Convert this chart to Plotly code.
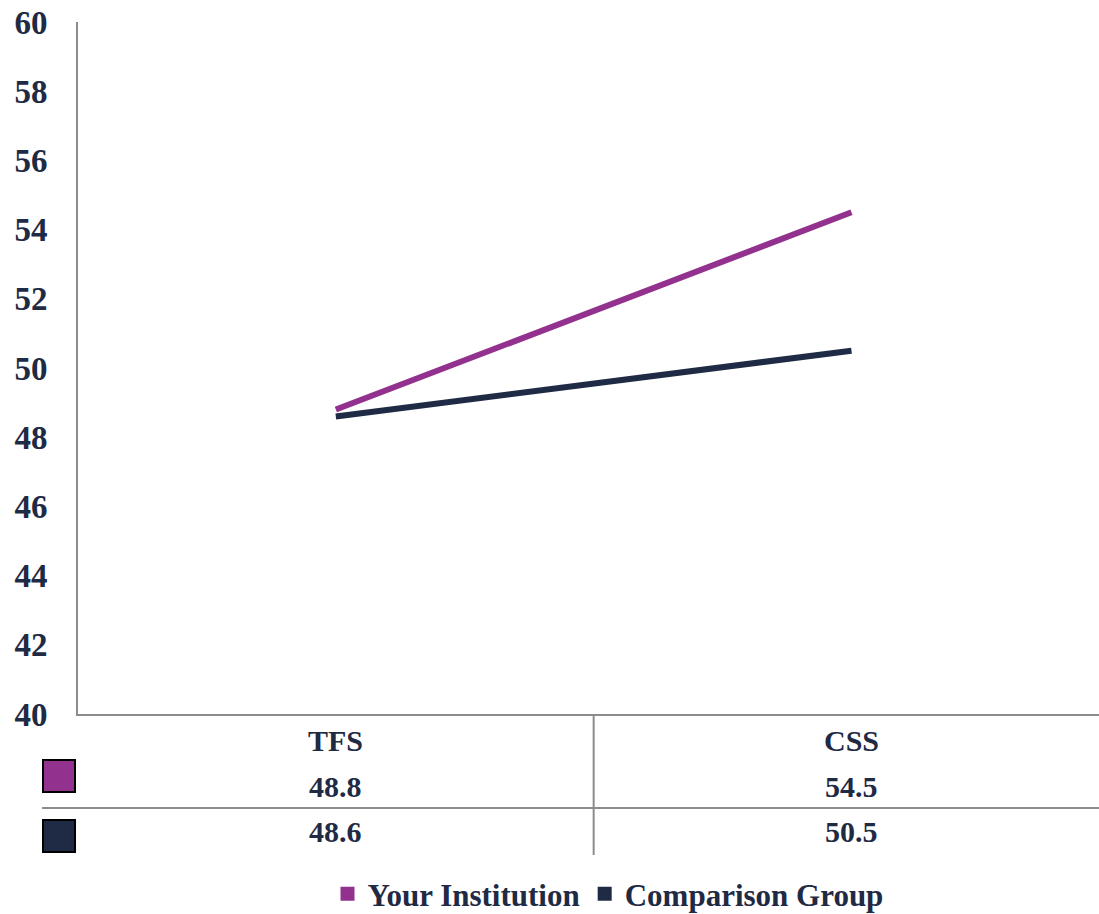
import plotly.graph_objects as go

categories = ["TFS", "CSS"]
series_names = ["Your Institution", "Comparison Group"]
your_institution = [48.8, 54.5]
comparison_group = [48.6, 50.5]
y_ticks = [40, 42, 44, 46, 48, 50, 52, 54, 56, 58, 60]

PURPLE = "#93318e"
NAVY = "#1f2a44"
GRID = "#8c8c8c"
FONT = "Liberation Serif"

W, H = 1099, 914
L, R, T, B = 78, 0, 22, 200
PH = H - T - B


def py(pix):
    return (H - B - pix) / PH


def px(pix):
    return (pix - L) / (W - L - R)


fig = go.Figure()
series = [your_institution, comparison_group]
colors = [PURPLE, NAVY]
for name, vals, col in zip(series_names, series, colors):
    fig.add_trace(go.Scatter(x=categories, y=vals, mode="lines", name=name,
                             line=dict(color=col, width=6), showlegend=False,
                             hoverinfo="x+y+name"))
for name, col in zip(series_names, colors):
    fig.add_trace(go.Scatter(x=[None], y=[None], mode="markers", name=name,
                             marker=dict(symbol="square", size=14, color=col),
                             showlegend=True))

shapes = []
# table lines
shapes.append(dict(type="line", xref="x", yref="paper", x0=0.5, x1=0.5,
                   y0=0, y1=py(855), line=dict(color=GRID, width=2)))
shapes.append(dict(type="line", xref="paper", yref="paper", x0=px(42), x1=1,
                   y0=py(808), y1=py(808), line=dict(color=GRID, width=2)))
# legend keys in table
for col, (top, bot) in zip(colors, [(760, 792), (820, 852)]):
    shapes.append(dict(type="rect", xref="paper", yref="paper",
                       x0=px(43), x1=px(75), y0=py(bot), y1=py(top),
                       fillcolor=col, line=dict(color="#000000", width=2)))

annotations = []
row_y = [786, 831]
tfont = dict(family=FONT, size=30, color=NAVY, weight="bold")
for i, cat in enumerate(categories):
    annotations.append(dict(x=cat, y=py(740), xref="x", yref="paper",
                            xanchor="center", yanchor="middle",
                            text=cat, showarrow=False, font=tfont))
    for vals, ry in zip(series, row_y):
        annotations.append(dict(x=cat, y=py(ry), xref="x", yref="paper",
                                xanchor="center", yanchor="middle",
                                text=f"{vals[i]:.1f}", showarrow=False, font=tfont))

fig.update_layout(
    width=W, height=H,
    margin=dict(l=L, r=R, t=T, b=B, pad=0, autoexpand=False),
    plot_bgcolor="white", paper_bgcolor="white",
    font=dict(family=FONT, color=NAVY),
    shapes=shapes, annotations=annotations,
    legend=dict(orientation="h", x=px(608), xanchor="center", y=py(894), yanchor="middle",
                font=dict(family=FONT, size=31, color=NAVY, weight="bold"),
                itemwidth=30, tracegroupgap=0, bgcolor="rgba(0,0,0,0)"),
)
fig.update_xaxes(type="category", range=[-0.5, 1.48], showgrid=False, showticklabels=False,
                 showline=True, linecolor=GRID, linewidth=2, ticks="", zeroline=False)
fig.update_yaxes(range=[40, 60], tickvals=y_ticks, showgrid=False, showline=True,
                 linecolor=GRID, linewidth=2, ticks="", ticklabelstandoff=22,
                 tickfont=dict(family=FONT, size=33, color=NAVY, weight="bold"),
                 zeroline=False)

post = (
    "document.documentElement.style.overflow='hidden';"
    "document.body.style.margin='0';document.body.style.overflow='hidden';"
    "var d=document.querySelector('.plotly-graph-div');"
    "d.style.position='absolute';d.style.left='0px';d.style.top='0px';"
)
fig.write_html("out.html", config={"displayModeBar": False}, post_script=post)
